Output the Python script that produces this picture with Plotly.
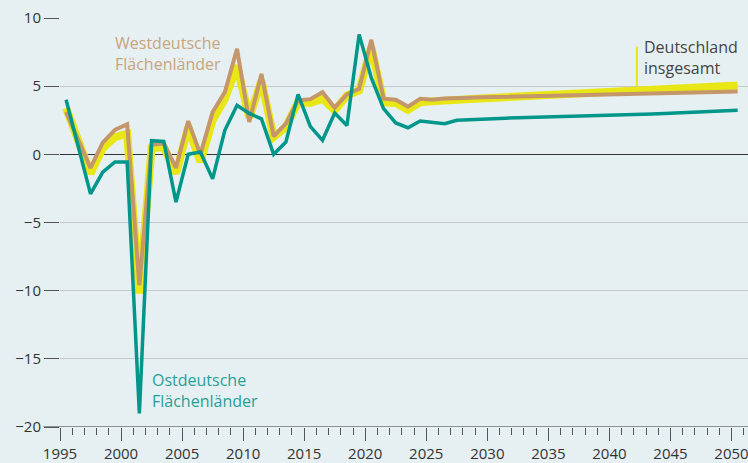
import plotly.graph_objects as go

years = list(range(1995, 2051))

ost = [4.0, 0.5, -2.9, -1.3, -0.56, -0.56, -19.0, 1.0, 0.95, -3.5,
       0.0, 0.17, -1.8, 1.76, 3.6, 3.0, 2.6, 0.0, 0.9, 4.4,
       2.05, 1.03, 3.03, 2.12, 8.8, 5.6, 3.35, 2.3, 1.95, 2.44,
       2.37, 2.25, 2.5, 2.55, 2.58, 2.62, 2.65, 2.68, 2.7, 2.72,
       2.75, 2.78, 2.8, 2.83, 2.86, 2.88, 2.9, 2.93, 2.96, 3.0,
       3.03, 3.07, 3.1, 3.14, 3.18, 3.23]

west = [3.1, 1.05, -1.0, 0.85, 1.8, 2.2, -9.6, 0.7, 0.8, -1.0,
        2.44, 0.0, 3.1, 4.56, 7.74, 2.37, 5.9, 1.32, 2.25, 3.96,
        4.05, 4.56, 3.42, 4.4, 4.8, 8.4, 4.08, 4.0, 3.5, 4.08,
        4.0, 4.1, 4.1, 4.15, 4.18, 4.2, 4.22, 4.24, 4.26, 4.27,
        4.29, 4.3, 4.32, 4.34, 4.36, 4.38, 4.4, 4.42, 4.44, 4.46,
        4.48, 4.5, 4.52, 4.55, 4.58, 4.6]

gesamt = [3.4, 1.0, -1.4, 0.44, 1.27, 1.5, -10.2, 0.44, 0.53, -1.4,
          2.0, -0.56, 2.5, 4.08, 6.5, 2.7, 5.4, 1.27, 2.0, 3.83,
          3.76, 4.08, 3.22, 4.32, 4.69, 7.86, 3.83, 3.76, 3.27, 3.83,
          3.85, 3.95, 4.0, 4.05, 4.1, 4.15, 4.2, 4.25, 4.3, 4.35,
          4.4, 4.44, 4.48, 4.52, 4.56, 4.6, 4.64, 4.68, 4.72, 4.76,
          4.8, 4.85, 4.9, 4.95, 5.0, 5.05]

y_ticks = [10, 5, 0, -5, -10, -15, -20]
x_ticks = list(range(1995, 2051, 5))

# annual values plotted at mid-year
xpos = [y + 0.5 for y in years]

FONT = "Open Sans"
BG = "#e6f0f2"
YELLOW = "#e8e614"
BROWN = "#c4966a"
TEAL = "#00968a"

fig = go.Figure()
fig.add_trace(go.Scatter(x=xpos, y=gesamt, mode="lines",
                         line=dict(color=YELLOW, width=8), hoverinfo="skip"))
fig.add_trace(go.Scatter(x=xpos, y=west, mode="lines",
                         line=dict(color=BROWN, width=4), hoverinfo="skip"))
fig.add_trace(go.Scatter(x=xpos, y=ost, mode="lines",
                         line=dict(color=TEAL, width=3.5), hoverinfo="skip"))

# connector for "Deutschland insgesamt"
lab_year = 2042
idx = years.index(lab_year)
fig.add_shape(type="line", xref="x", yref="y",
              x0=lab_year + 0.25, x1=lab_year + 0.25,
              y0=gesamt[idx], y1=7.9,
              line=dict(color=YELLOW, width=2), layer="below")

# x axis line extended to the left like in the reference
fig.add_shape(type="line", xref="paper", yref="y", x0=-0.024, x1=1,
              y0=-20, y1=-20, line=dict(color="#333", width=1.2))

fig.add_annotation(x=1999.35, y=9.1, xref="x", yref="y", xanchor="left", yanchor="top",
                   text="Westdeutsche<br>Flächenländer", showarrow=False, align="left",
                   font=dict(family=FONT, size=16, color="#c9a47e"))
fig.add_annotation(x=2002.35, y=-15.6, xref="x", yref="y", xanchor="left", yanchor="top",
                   text="Ostdeutsche<br>Flächenländer", showarrow=False, align="left",
                   font=dict(family=FONT, size=16, color="#26a096"))
fig.add_annotation(x=2042.7, y=8.8, xref="x", yref="y", xanchor="left", yanchor="top",
                   text="Deutschland<br>insgesamt", showarrow=False, align="left",
                   font=dict(family=FONT, size=16, color="#444"))

fig.update_layout(
    width=748, height=463,
    margin=dict(l=60, r=0, t=18, b=36),
    paper_bgcolor=BG, plot_bgcolor=BG,
    showlegend=False,
    font=dict(family=FONT, size=15, color="#333"),
)
fig.update_xaxes(
    automargin=False, ticklabeloverflow="allow",
    range=[1995, 2051.35], tickvals=x_ticks, ticktext=[str(v) for v in x_ticks],
    showgrid=False, zeroline=False, showline=False,
    ticks="outside", ticklen=13, tickwidth=1.2, tickcolor="#555",
    minor=dict(dtick=1, tick0=1995, ticks="outside", ticklen=7, tickwidth=1, tickcolor="#555", showgrid=False),
    tickfont=dict(family=FONT, size=15, color="#333"),
)
fig.update_yaxes(
    automargin=False,
    range=[-20, 10], tickvals=y_ticks, ticktext=[("−" + str(-v)) if v < 0 else str(v) for v in y_ticks],
    showgrid=True, gridcolor="#c3c8ca", gridwidth=1.2,
    zeroline=True, zerolinecolor="#333", zerolinewidth=1.2,
    showline=False,
    ticks="outside", ticklen=15, tickwidth=1.2, tickcolor="#555",
    tickfont=dict(family=FONT, size=15, color="#333"),
)

fig.write_html("out.html", config={"displayModeBar": False},
               post_script="document.body.style.margin='0px';document.body.style.background='%s';" % BG)
